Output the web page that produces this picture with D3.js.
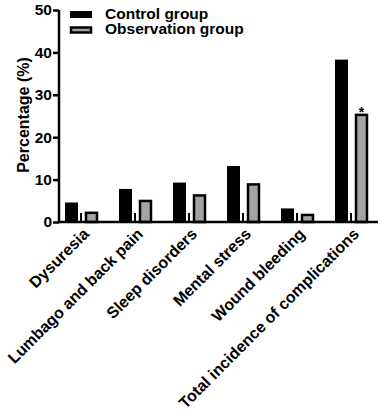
<!DOCTYPE html>
<html>
<head>
<meta charset="utf-8">
<script src="https://cdn.jsdelivr.net/npm/d3@7"></script>
<style>
  body { margin: 0; background: #fff; }
  text { font-family: "Liberation Sans", Arial, sans-serif; font-weight: bold; fill: #000; }
</style>
</head>
<body>
<div id="chart"></div>
<script>
// values (percent)
const categories = ["Dysuresia", "Lumbago and back pain", "Sleep disorders", "Mental stress", "Wound bleeding", "Total incidence of complications"]
const groups = ["Control group", "Observation group"]
const controlValues = [4.6, 7.8, 9.3, 13.2, 3.2, 38.3]
const observationValues = [2.4, 5.2, 6.5, 9.1, 1.9, 25.5]
const yTicks = [0, 10, 20, 30, 40, 50]
const starred = ["Total incidence of complications"]

const width = 383
const height = 413

const svg = d3.select("#chart")
    .append("svg")
    .attr("width", width)
    .attr("height", height)

const x0 = d3.scaleBand().domain(categories).range([54, 378]).padding(0)
const x1 = d3.scaleBand().domain(groups).range([-16, 17]).paddingInner(0.35)
const y = d3.scaleLinear().domain([0, 50]).range([222, 10])

const fills = { "Control group": "#000", "Observation group": "#a3a3a3" }

const rows = categories.map((c, i) => ({
    cat: c,
    vals: [
        { g: groups[0], v: controlValues[i] },
        { g: groups[1], v: observationValues[i] }
    ]
}))

// bars
const grp = svg.append("g")
    .selectAll("g")
    .data(rows)
    .join("g")
    .attr("transform", d => "translate(" + (x0(d.cat) + x0.bandwidth() / 2) + ",0)")

grp.selectAll("rect")
    .data(d => d.vals)
    .join("rect")
    .attr("x", d => d.g == groups[1] ? x1(d.g) + 1 : x1(d.g))
    .attr("y", d => d.g == groups[1] ? y(d.v) + 1 : y(d.v))
    .attr("width", d => d.g == groups[1] ? x1.bandwidth() - 2 : x1.bandwidth())
    .attr("height", d => d.g == groups[1] ? y(0) - y(d.v) - 1 : y(0) - y(d.v))
    .attr("fill", d => fills[d.g])
    .attr("stroke", d => d.g == groups[1] ? "#000" : "none")
    .attr("stroke-width", 2.5)

// small category ticks sitting on the axis
grp.append("line")
    .attr("x1", 0).attr("x2", 0)
    .attr("y1", y(0)).attr("y2", y(0) - 9)
    .attr("stroke", "#000")
    .attr("stroke-width", 2)

// significance star
svg.append("g")
    .selectAll("text")
    .data(starred)
    .join("text")
    .attr("x", d => x0(d) + x0.bandwidth() / 2 + x1(groups[1]) + x1.bandwidth() / 2)
    .attr("y", d => y(observationValues[categories.indexOf(d)]) + 3)
    .attr("text-anchor", "middle")
    .style("font-size", "14px")
    .text("*")

// y axis
const yAxis = svg.append("g")
    .attr("transform", "translate(59,0)")
    .call(d3.axisLeft(y).tickValues(yTicks).tickSize(6).tickPadding(1))
yAxis.select(".domain").attr("stroke-width", 2.5).attr("d", "M0," + y(0) + "V" + y(50))
yAxis.selectAll(".tick line").attr("stroke-width", 2.5)
yAxis.selectAll(".tick text").style("font-size", "15.5px").style("font-family", "Liberation Sans, Arial, sans-serif").style("font-weight", "bold")

// x axis line
svg.append("line")
    .attr("x1", 58).attr("x2", 378)
    .attr("y1", y(0)).attr("y2", y(0))
    .attr("stroke", "#000")
    .attr("stroke-width", 2.5)

// x labels
svg.append("g")
    .selectAll("text")
    .data(categories)
    .join("text")
    .attr("transform", d => "translate(" + (x0(d) + x0.bandwidth() / 2 + 5) + "," + 231 + ") rotate(-45)")
    .attr("text-anchor", "end")
    .attr("dy", "0.35em")
    .style("font-size", "16px")
    .text(d => d)

// y label
svg.append("text")
    .attr("transform", "translate(29,115) rotate(-90)")
    .attr("text-anchor", "middle")
    .style("font-size", "16px")
    .text("Percentage (%)")

// legend
const legend = svg.append("g")
    .selectAll("g")
    .data(groups)
    .join("g")
    .attr("transform", (d, i) => "translate(70," + (11 + i * 15.5) + ")")
legend.append("rect")
    .attr("x", d => d == groups[1] ? 1 : 0)
    .attr("y", d => d == groups[1] ? 1 : 0)
    .attr("width", d => d == groups[1] ? 20 : 22)
    .attr("height", d => d == groups[1] ? 5 : 7)
    .attr("fill", d => fills[d])
    .attr("stroke", d => d == groups[1] ? "#000" : "none")
    .attr("stroke-width", 2.5)
legend.append("text")
    .attr("x", 35)
    .attr("y", 7.5)
    .style("font-size", "15.5px")
    .text(d => d)
</script>
</body>
</html>
